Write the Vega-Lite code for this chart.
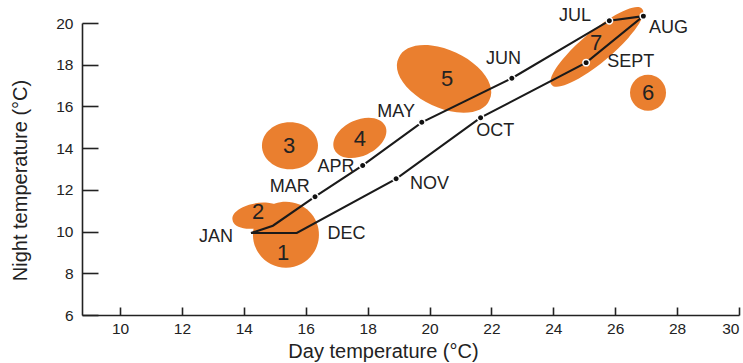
{
  "$schema": "https://vega.github.io/schema/vega-lite/v6.json",
  "width": 657,
  "height": 292,
  "autosize": "none",
  "padding": {"left": 82, "top": 23, "right": 4, "bottom": 48},
  "background": "white",
  "config": {
    "view": {"stroke": null},
    "font": "Liberation Sans",
    "axis": {
      "grid": false,
      "domainColor": "#222222",
      "domainWidth": 1.6,
      "tickColor": "#222222",
      "tickWidth": 1.6,
      "labelColor": "#222222",
      "labelFont": "Liberation Sans",
      "labelFontSize": 15.5,
      "titleColor": "#222222",
      "titleFont": "Liberation Sans",
      "titleFontSize": 20,
      "titleFontWeight": "normal"
    }
  },
  "datasets": {
    "zones": [
      {"zone": "1", "day": 15.36, "night": 9.85, "nx": 15.27, "ny": 8.99},
      {"zone": "2", "day": 14.43, "night": 10.76, "nx": 14.46, "ny": 10.95},
      {"zone": "3", "day": 15.49, "night": 14.11, "nx": 15.46, "ny": 14.11},
      {"zone": "4", "day": 17.75, "night": 14.49, "nx": 17.75, "ny": 14.45},
      {"zone": "5", "day": 20.47, "night": 17.32, "nx": 20.57, "ny": 17.32},
      {"zone": "6", "day": 27.06, "night": 16.65, "nx": 27.06, "ny": 16.65},
      {"zone": "7", "day": 25.41, "night": 18.85, "nx": 25.38, "ny": 19.04}
    ],
    "months": [
      {"order": 1, "month": "JAN", "day": 14.23, "night": 9.93, "dot": false, "lx": 13.1, "ly": 9.73},
      {"order": 2, "month": "", "day": 14.94, "night": 10.28, "dot": false},
      {"order": 3, "month": "MAR", "day": 16.3, "night": 11.67, "dot": true, "lx": 15.48, "ly": 12.15},
      {"order": 4, "month": "APR", "day": 17.84, "night": 13.17, "dot": true, "lx": 16.98, "ly": 13.08},
      {"order": 5, "month": "MAY", "day": 19.75, "night": 15.24, "dot": true, "lx": 18.92, "ly": 15.71},
      {"order": 6, "month": "JUN", "day": 22.66, "night": 17.35, "dot": true, "lx": 22.39, "ly": 18.27},
      {"order": 7, "month": "JUL", "day": 25.81, "night": 20.11, "dot": true, "lx": 24.7, "ly": 20.35},
      {"order": 8, "month": "AUG", "day": 26.91, "night": 20.33, "dot": true, "lx": 27.72, "ly": 19.78},
      {"order": 9, "month": "SEPT", "day": 25.06, "night": 18.1, "dot": true, "lx": 26.5, "ly": 18.11},
      {"order": 10, "month": "OCT", "day": 21.65, "night": 15.46, "dot": true, "lx": 22.12, "ly": 14.8},
      {"order": 11, "month": "NOV", "day": 18.92, "night": 12.53, "dot": true, "lx": 20.0, "ly": 12.29},
      {"order": 12, "month": "DEC", "day": 15.71, "night": 9.93, "dot": false, "lx": 17.32, "ly": 9.88},
      {"order": 13, "month": "", "day": 14.23, "night": 9.93, "dot": false}
    ]
  },
  "layer": [
    {
      "data": {"name": "zones"},
      "mark": {"type": "point", "filled": true, "opacity": 1, "size": 4, "color": "#EA7F2F", "strokeWidth": 0},
      "encoding": {
        "x": {
          "field": "day", "type": "quantitative",
          "title": "Day temperature (°C)",
          "scale": {"domain": [8.77, 30], "nice": false, "zero": false},
          "axis": {"values": [10, 12, 14, 16, 18, 20, 22, 24, 26, 28, 30], "tickSize": -8, "labelPadding": 14, "titleX": 301, "titlePadding": 5}
        },
        "y": {
          "field": "night", "type": "quantitative",
          "title": "Night temperature (°C)",
          "scale": {"domain": [6, 20], "nice": false, "zero": false},
          "axis": {"values": [6, 8, 10, 12, 14, 16, 18, 20], "tickSize": -16, "labelPadding": 25, "titleY": 157, "titlePadding": 25}
        },
        "shape": {
          "field": "zone", "type": "nominal", "legend": null,
          "scale": {
            "domain": ["1", "2", "3", "4", "5", "6", "7"],
            "range": [
              "M -33 0 A 33 33 0 1 0 33 0 A 33 33 0 1 0 -33 0 Z",
              "M -24.6 4.3 A 25 12 -10 1 0 24.6 -4.3 A 25 12 -10 1 0 -24.6 4.3 Z",
              "M -28 0 A 28 23.5 0 1 0 28 0 A 28 23.5 0 1 0 -28 0 Z",
              "M -25.4 11.8 A 28 18 -25 1 0 25.4 -11.8 A 28 18 -25 1 0 -25.4 11.8 Z",
              "M -45.3 -21.1 A 50 28 25 1 0 45.3 21.1 A 50 28 25 1 0 -45.3 -21.1 Z",
              "M -18 0 A 18 18 0 1 0 18 0 A 18 18 0 1 0 -18 0 Z",
              "M -45.2 37.9 A 59 15 -40 1 0 45.2 -37.9 A 59 15 -40 1 0 -45.2 37.9 Z"
            ]
          }
        }
      }
    },
    {
      "data": {"name": "months"},
      "mark": {"type": "line", "color": "#1a1a1a", "strokeWidth": 2.1},
      "encoding": {
        "x": {"field": "day", "type": "quantitative", "title": "Day temperature (°C)"},
        "y": {"field": "night", "type": "quantitative", "title": "Night temperature (°C)"},
        "order": {"field": "order", "type": "quantitative"}
      }
    },
    {
      "data": {"name": "months"},
      "transform": [{"filter": "datum.dot"}],
      "mark": {"type": "point", "filled": true, "opacity": 1, "size": 42, "fill": "#111111", "stroke": "white", "strokeWidth": 1.5, "strokeOpacity": 1},
      "encoding": {
        "x": {"field": "day", "type": "quantitative", "title": "Day temperature (°C)"},
        "y": {"field": "night", "type": "quantitative", "title": "Night temperature (°C)"}
      }
    },
    {
      "data": {"name": "months"},
      "transform": [{"filter": "datum.month != ''"}],
      "mark": {"type": "text", "font": "Liberation Sans", "fontSize": 18, "color": "#222222", "align": "center", "baseline": "middle"},
      "encoding": {
        "x": {"field": "lx", "type": "quantitative", "title": "Day temperature (°C)"},
        "y": {"field": "ly", "type": "quantitative", "title": "Night temperature (°C)"},
        "text": {"field": "month"}
      }
    },
    {
      "data": {"name": "zones"},
      "mark": {"type": "text", "font": "Liberation Sans", "fontSize": 22, "color": "#222222", "align": "center", "baseline": "middle"},
      "encoding": {
        "x": {"field": "nx", "type": "quantitative", "title": "Day temperature (°C)"},
        "y": {"field": "ny", "type": "quantitative", "title": "Night temperature (°C)"},
        "text": {"field": "zone"}
      }
    }
  ]
}
